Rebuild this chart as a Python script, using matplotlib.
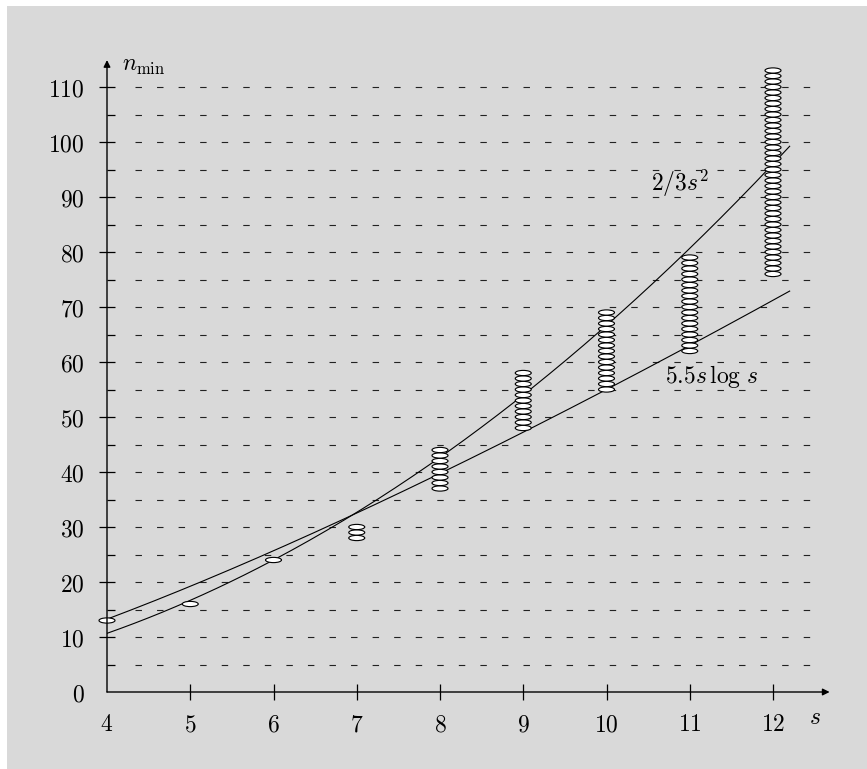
import numpy as np
import matplotlib
matplotlib.use('Agg')
import matplotlib.pyplot as plt
from matplotlib.patches import Ellipse, Rectangle

plt.rcParams['mathtext.fontset'] = 'cm'

# data
s_vals = [4, 5, 6, 7, 8, 9, 10, 11, 12]
n_lo = [13, 16, 24, 28, 37, 48, 55, 62, 76]
n_hi = [13, 16, 24, 30, 44, 58, 69, 79, 113]
x_ticks = [4, 5, 6, 7, 8, 9, 10, 11, 12]
y_ticks = [0, 10, 20, 30, 40, 50, 60, 70, 80, 90, 100, 110]
grid_levels = list(range(5, 115, 5))
s_curve_end = 12.2

FS = 17
W, H = 867, 769
fig = plt.figure(figsize=(W / 100, H / 100), dpi=100, facecolor='white')
# grey backdrop
fig.patches.append(Rectangle((7 / W, 0), 1, 1 - 6 / H, transform=fig.transFigure,
                             facecolor='#d9d9d9', edgecolor='none', zorder=-10))

# axes placement: s=4 -> x=107px, 83.25 px per unit; n=0 -> y=692px, 5.5 px per unit
px_s, px_n = 83.25, 5.5
xmin, xmax = 4, 12.8
ymin, ymax = 0, 116
left = 107 / W
bottom = 1 - 692 / H
ax = fig.add_axes([left, bottom, (xmax - xmin) * px_s / W, (ymax - ymin) * px_n / H])
ax.set_xlim(xmin, xmax)
ax.set_ylim(ymin, ymax)
ax.patch.set_alpha(0)
for sp in ax.spines.values():
    sp.set_visible(False)

# dashed grid
g0 = 4 + (135 - 107) / px_s
g1 = 4 + (815 - 107) / px_s
ax.hlines(grid_levels, g0, g1, colors='#222222', linewidth=0.8,
          linestyles=(0, (5.8, 13.6)), zorder=1)

# axes with arrows
ax.annotate('', xy=(12.68, 0), xytext=(4, 0),
            arrowprops=dict(arrowstyle='-|>', color='black', lw=1.0,
                            mutation_scale=10, shrinkA=0, shrinkB=0), zorder=5)
ax.annotate('', xy=(4, 114.9), xytext=(4, 0),
            arrowprops=dict(arrowstyle='-|>', color='black', lw=1.0,
                            mutation_scale=10, shrinkA=0, shrinkB=0), zorder=5)

# ticks
ax.set_xticks(x_ticks)
ax.set_xticklabels([r'$%d$' % v for v in x_ticks], fontsize=FS)
ax.set_yticks(y_ticks)
ax.set_yticklabels([r'$%d$' % v for v in y_ticks], fontsize=FS)
ax.set_yticks(grid_levels[::2], minor=True)
ax.tick_params(axis='x', which='major', direction='inout', length=11, width=0.9, pad=9)
ax.tick_params(axis='y', which='major', direction='inout', length=12, width=0.9, pad=10)
ax.tick_params(axis='y', which='minor', direction='in', length=6, width=0.9)
ax.xaxis.get_major_ticks()[0].tick1line.set_visible(False)
ax.yaxis.get_major_ticks()[0].tick1line.set_visible(False)

# curves
s = np.linspace(4, s_curve_end, 200)
ax.plot(s, 2 / 3 * s ** 2, color='black', lw=0.8, zorder=3)
ax.plot(s, 5.5 * s * np.log10(s), color='black', lw=0.8, zorder=3)

# stacks of ellipses
for sv, lo, hi in zip(s_vals, n_lo, n_hi):
    for n in range(lo, hi + 1):
        ax.add_patch(Ellipse((sv, n), 16 / px_s, 0.95, facecolor='white',
                             edgecolor='black', lw=0.8, zorder=4, clip_on=False))

# labels
ax.text(4.18, 114, r'$n_{\min}$', fontsize=FS, ha='left', va='center')
ax.text(12.5, -4.5, r'$s$', fontsize=FS, ha='center', va='center')
ax.text(10.88, 92.5, r'$2/3s^2$', fontsize=FS, ha='center', va='center')
ax.text(11.27, 57.3, r'$5.5s\,\log\,s$', fontsize=FS, ha='center', va='center')

fig.savefig('out.png', dpi=100, facecolor=fig.get_facecolor())
